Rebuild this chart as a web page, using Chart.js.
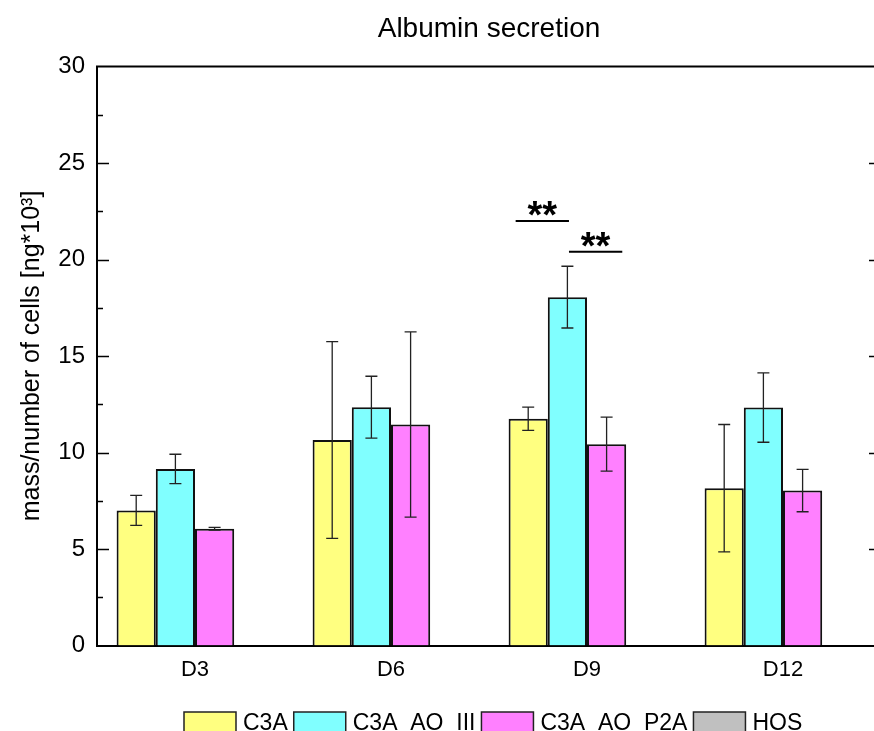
<!DOCTYPE html>
<html>
<head>
<meta charset="utf-8">
<script src="https://cdn.jsdelivr.net/npm/chart.js@4"></script>
<style>
  html, body { margin: 0; padding: 0; background: #fff; overflow: hidden; }
  #wrap { width: 890px; height: 731px; position: relative; }
</style>
</head>
<body>
<div id="wrap"><canvas id="chart"></canvas></div>
<script>
// Albumin secretion per cell count, by day and cell line
const days = ['D3', 'D6', 'D9', 'D12'];
const seriesNames = ['C3A', 'C3A  AO  III', 'C3A  AO  P2A', 'HOS'];
const c3a = [7.0, 10.65, 11.75, 8.15];
const c3aErr = [0.78, 5.1, 0.6, 3.3];
const c3aAoIII = [9.15, 12.35, 18.05, 12.33];
const c3aAoIIIErr = [0.76, 1.6, 1.6, 1.8];
const c3aAoP2A = [6.05, 11.45, 10.43, 8.03];
const c3aAoP2AErr = [0.07, 4.8, 1.4, 1.1];
const hos = [null, null, null, null];
const hosErr = [null, null, null, null];
const yTickValues = [0, 5, 10, 15, 20, 25, 30];
// significance brackets: day, first series, second series, height, label
const sigDay = ['D9', 'D9'];
const sigFrom = [0, 1];
const sigTo = [1, 2];
const sigLevel = [22.0, 20.4];
const sigText = ['**', '**'];

const FONT = '"Liberation Sans", Arial, Helvetica, sans-serif';
const colors = ['#FFFF80', '#80FFFF', '#FF80FF', '#C0C0C0'];
const values = [c3a, c3aAoIII, c3aAoP2A, hos];
const errors = [c3aErr, c3aAoIIIErr, c3aAoP2AErr, hosErr];

const errorBars = {
  id: 'errorBars',
  afterDatasetsDraw(chart) {
    const ctx = chart.ctx, y = chart.scales.y;
    ctx.save();
    ctx.strokeStyle = '#222';
    ctx.lineWidth = 1.3;
    chart.data.datasets.forEach((ds, i) => {
      const meta = chart.getDatasetMeta(i);
      meta.data.forEach((el, j) => {
        const v = ds.data[j], e = ds.errors[j];
        if (v == null || e == null) return;
        const top = y.getPixelForValue(v + e), bot = y.getPixelForValue(v - e);
        ctx.beginPath();
        ctx.moveTo(el.x, top); ctx.lineTo(el.x, bot);
        ctx.moveTo(el.x - 6, top); ctx.lineTo(el.x + 6, top);
        ctx.moveTo(el.x - 6, bot); ctx.lineTo(el.x + 6, bot);
        ctx.stroke();
      });
    });
    ctx.restore();
  }
};

const frameAndTicks = {
  id: 'frameAndTicks',
  afterDraw(chart) {
    const ctx = chart.ctx, a = chart.chartArea, y = chart.scales.y;
    ctx.save();
    ctx.strokeStyle = '#000';
    ctx.lineWidth = 2;
    ctx.beginPath();
    ctx.moveTo(a.left - 1, a.top); ctx.lineTo(a.right + 1, a.top);
    ctx.moveTo(a.right, a.top); ctx.lineTo(a.right, a.bottom);
    ctx.stroke();
    ctx.lineWidth = 1.6;
    ctx.beginPath();
    for (let v = 2.5; v < 30; v += 2.5) {
      const py = Math.round(y.getPixelForValue(v)) + 0.5;
      const len = (v % 5 === 0) ? 12 : 6;
      ctx.moveTo(a.left, py); ctx.lineTo(a.left + len, py);
      ctx.moveTo(a.right, py); ctx.lineTo(a.right - len, py);
    }
    ctx.stroke();
    ctx.restore();
  }
};

const significance = {
  id: 'significance',
  afterDatasetsDraw(chart) {
    const ctx = chart.ctx, y = chart.scales.y;
    ctx.save();
    ctx.strokeStyle = '#000';
    ctx.fillStyle = '#000';
    ctx.lineWidth = 2;
    ctx.font = 'bold 38px ' + FONT;
    ctx.textAlign = 'center';
    ctx.textBaseline = 'alphabetic';
    sigDay.forEach((d, k) => {
      const idx = days.indexOf(d);
      const b1 = chart.getDatasetMeta(sigFrom[k]).data[idx];
      const b2 = chart.getDatasetMeta(sigTo[k]).data[idx];
      const w = b1.width;
      const x1 = k === 0 ? b1.x - 0.32 * w : b1.x + 0.04 * w;
      const x2 = k === 0 ? b2.x + 0.04 * w : b2.x + 0.40 * w;
      const py = y.getPixelForValue(sigLevel[k]);
      ctx.beginPath();
      ctx.moveTo(x1, py); ctx.lineTo(x2, py);
      ctx.stroke();
      ctx.fillText(sigText[k], (x1 + x2) / 2, py + 7);
    });
    ctx.restore();
  }
};

const titleAndLegend = {
  id: 'titleAndLegend',
  afterDraw(chart) {
    const ctx = chart.ctx, a = chart.chartArea;
    ctx.save();
    ctx.fillStyle = '#000';
    ctx.font = '28px ' + FONT;
    ctx.textAlign = 'center';
    ctx.textBaseline = 'alphabetic';
    ctx.fillText('Albumin secretion', (a.left + a.right) / 2, 37);

    ctx.font = '23px ' + FONT;
    ctx.textAlign = 'left';
    let x = 184;
    chart.data.datasets.forEach(ds => {
      ctx.fillStyle = ds.backgroundColor;
      ctx.fillRect(x, 712, 52, 24);
      ctx.strokeStyle = '#222';
      ctx.lineWidth = 1.5;
      ctx.strokeRect(x, 712, 52, 24);
      x += 52 + 7;
      ctx.fillStyle = '#000';
      ctx.fillText(ds.label, x, 730);
      x += ctx.measureText(ds.label).width + 6;
    });
    ctx.restore();
  }
};

new Chart(document.getElementById('chart'), {
  type: 'bar',
  data: {
    labels: days,
    datasets: seriesNames.map((name, i) => ({
      label: name,
      data: values[i],
      errors: errors[i],
      backgroundColor: colors[i],
      borderColor: '#111',
      borderWidth: 2,
      categoryPercentage: 0.8,
      barPercentage: 1.0
    }))
  },
  options: {
    responsive: true,
    maintainAspectRatio: false,
    animation: false,
    devicePixelRatio: 1,
    layout: { padding: { left: 0, top: 66.5, right: 9, bottom: 0 } },
    plugins: { legend: { display: false }, title: { display: false }, tooltip: { enabled: false } },
    scales: {
      x: {
        grid: { display: false, drawTicks: false },
        border: { display: true, color: '#000', width: 2 },
        ticks: { color: '#000', font: { family: FONT, size: 22 }, padding: 11 },
        afterFit(s) { s.height = 85.5; }
      },
      y: {
        min: 0, max: 30,
        afterBuildTicks(s) { s.ticks = yTickValues.map(v => ({ value: v })); },
        grid: { display: false, drawTicks: false },
        border: { display: true, color: '#000', width: 2 },
        ticks: { color: '#000', font: { family: FONT, size: 24 }, padding: 12 },
        title: {
          display: true,
          text: 'mass/number of cells [ng*10³]',
          color: '#000',
          font: { family: FONT, size: 25 },
          padding: { top: 17, bottom: 0 }
        },
        afterFit(s) { s.width = 97; }
      }
    }
  },
  plugins: [errorBars, significance, frameAndTicks, titleAndLegend]
});
</script>
</body>
</html>
